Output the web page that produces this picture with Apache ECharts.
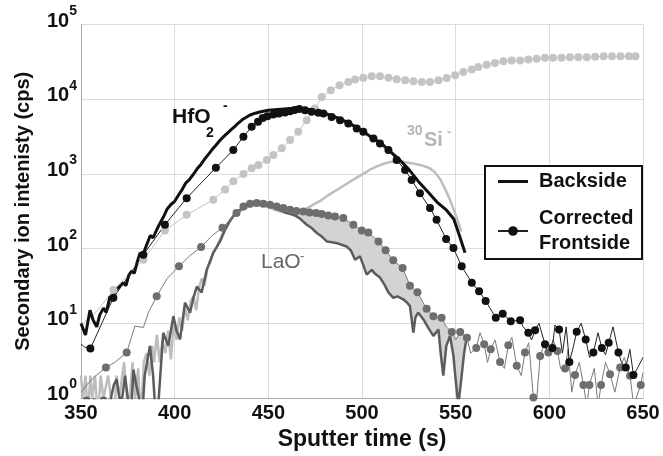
<!DOCTYPE html>
<html>
<head>
<meta charset="utf-8">
<script src="https://cdn.jsdelivr.net/npm/echarts@6/dist/echarts.min.js"></script>
<style>
  html, body { margin: 0; padding: 0; background: #fff; }
  #chart { width: 663px; height: 456px; }
</style>
</head>
<body>
<div id="chart"></div>
<script>
// values: [sputter time (s), intensity (cps)]
const hfo2Back = [[350,10],[352.4,7],[354.8,15],[356.5,11],[358.4,9],[360,13],[362,16],[363.5,14],[365.5,23],[367,20],[368.5,28],[370,30],[372.6,35],[374,32],[375.5,44],[377,50],[378.5,47],[380,66],[381.5,88],[383,82],[385,112],[387,150],[388.5,140],[390.4,179],[392,215],[394,265],[396,340],[398,390],[400,430],[402,520],[404,620],[406,760],[408,850],[410,990],[412,1170],[414,1340],[416,1580],[418,1830],[420,2120],[422,2420],[424,2780],[426,3130],[428,3480],[430,3880],[432,4300],[434,4800],[436,5300],[438,5700],[440,6100],[443,6500],[446,6800],[450,7100],[455,7300],[460,7450],[465,7550],[470,7400],[475,7000],[480,6500],[485,5900],[490,5200],[495,4500],[500,3800],[505,3100],[510,2600],[515,2000],[520,1550],[525,1150],[530,800],[535,580],[540,420],[545,330],[549,250],[552,150],[555,88]];

const hfo2FrontDots = [[355,4.6],[367.3,22],[383.3,83],[394.8,209],[406.4,474],[422,1213],[431.3,2090],[436.7,3140],[441.1,4270],[444.5,5000],[447,5600],[449.5,5930],[452.7,6250],[455.7,6440],[458.9,6640],[461.6,6900],[464,7200],[466.5,7400],[469.6,7100],[473.1,6800],[476.7,6600],[479.4,6440],[483.8,5800],[488.3,5250],[492.7,4740],[497.2,4070],[500.7,3670],[506.1,2990],[509.6,2560],[514.1,2090],[518.5,1537],[523,1130],[526.5,832],[530.9,553],[536.3,349],[539.8,244],[544.9,135],[548.8,102],[553.2,58],[558.6,35],[562.5,27],[566,20],[571.4,11.9],[575.1,13.5],[579.4,10.7],[584.4,11],[588.8,7.5],[592.4,8.1],[597.7,5.25],[601.6,4.7],[605.2,8.3],[610.7,3.05],[614.6,7.7],[619.4,6.1],[623.5,4.07],[628,4.7],[631.7,5.5],[636.9,4.07],[640.8,2.57],[644.9,2.03]];
const hfo2FrontNoise = [[350,5.3],[352,4.8],[586,9],[590.5,6],[594.5,10],[599.5,4],[603,9.5],[607,4],[609,9],[612.5,4.5],[617,10],[621.5,3.5],[626,7.5],[630,3.8],[634,9],[638.5,3],[643,4.5],[647,2.5],[650,3.5]];

const si30Back = [[350,2],[351,1],[352.5,2],[353.5,0.5],[355,2],[356,1],[357.5,2],[359,0.5],[360.5,2],[362,1],[363,1],[364.5,2],[366,1],[367.5,0.5],[369,2],[370.5,1],[372,2],[373,3],[374.5,1],[376,1],[377.5,3],[379,1],[380.5,2.5],[382,0.5],[383.5,3],[385,4],[386.5,2],[388,5],[389,3],[390.5,7],[392,3],[393.5,6],[395,4],[396.5,8],[398,3.3],[399.5,10],[401,6],[402.5,12],[404,8],[405.5,16],[407,11],[408.5,20],[410,23],[411.5,15],[413,30],[414.5,40],[416,32],[417.5,55],[419,65],[420.5,88],[422,100],[424,130],[426,170],[428,210],[430,250],[433,290],[436,330],[440,370],[445,390],[450,360],[455,320],[460,300],[465,310],[470,340],[475,400],[478,440],[482,520],[486,600],[490,690],[495,830],[500,980],[504,1130],[508,1260],[512,1380],[516,1460],[520,1470],[524,1420],[528,1370],[532,1300],[536,1200],[539,1050],[542,830],[545,580],[547,450],[549,330],[551,240],[553,170]];

const si30FrontDots = [[367.3,28],[383.3,71],[394.8,175],[406.4,284],[420.6,450],[426.9,620],[431.3,800],[436.7,1000],[441.1,1190],[444.7,1318],[449.2,1537],[452.7,1790],[457.2,2200],[461.6,2840],[466,3660],[470.5,5250],[474.9,7500],[478.5,10700],[483.3,13200],[488,15400],[492.7,17000],[496.3,18300],[500.7,19400],[505.2,20300],[509.6,20300],[514.1,19400],[518.5,18500],[523,17900],[527.4,17400],[531.9,17000],[536.3,17000],[540.8,17900],[545.2,19200],[549.7,20900],[554.1,23100],[558.6,24900],[562.1,27000],[566.6,29000],[571,30500],[575.5,32100],[579.9,33100],[584.4,33100],[588.8,34100],[593.2,34800],[597.7,35900],[602,36000],[606.5,36000],[611,36500],[615.5,36500],[620,36500],[624.5,37000],[629,37500],[633.5,37500],[638,37500],[642.5,37500],[646,37500]];
const si30FrontNoise = [[351,10],[358,14]];

const laoBack = [[350,0.5],[352,1],[354,1],[355.5,0.5],[357,1],[359,0.5],[361,1],[363,1],[364.5,0.5],[366,1],[367.5,1.5],[369,1.8],[370.5,1],[372,1],[373.5,2],[375,1],[376.5,0.5],[378,2.4],[379.5,1.5],[381,1],[382.5,0.5],[384,2],[386.8,5],[388.5,2],[390,0.5],[391.5,1],[393.9,7.5],[396.6,5],[399.3,12.5],[401,8],[402.9,6.1],[405.5,19],[408.2,13.9],[410,22],[411.8,31],[414.4,26],[417.1,52],[420.6,88],[424.2,125],[427,180],[429.5,235],[432,290],[434.9,331],[437.5,370],[440.2,398],[443,410],[445,395],[447.3,407],[450,380],[451.5,365],[453.6,349],[456,330],[459.8,299],[462,290],[465.2,270],[467.5,245],[470.5,209],[473,190],[475.9,162],[478.5,145],[481.2,125],[484,122],[487.4,117],[489.5,112],[491.8,107],[494,95],[496.3,71],[498.9,79],[500.5,62],[502.5,45],[505.2,52],[507,46],[509.6,41],[512,33],[514.1,26],[516.7,22],[519,23],[522,21],[524,19],[525.6,17],[527.4,7.5],[528.5,12],[530,13.9],[532.8,11.3],[535.4,8.7],[538.1,6.8],[540.8,8.3],[542,4],[543.4,2],[545,5],[547,6.8],[548.8,3.7],[549.7,2.1],[551.4,0.8],[553.2,2],[554.5,4],[556,6.8]];

const laoFrontDots = [[363.3,2.57],[374.4,4.07],[390.4,23],[402.3,58],[414.1,105],[425.5,190],[433,299],[436.7,367],[440.2,398],[443.8,407],[447.3,398],[450.9,386],[454.5,367],[458,349],[461.6,331],[465,320],[468.7,314],[472,305],[475.5,299],[478.5,290],[482,278],[485.6,270],[490,257],[495.4,209],[499.9,175],[503.4,165],[508.8,125],[512.6,95],[516.7,70],[521.7,55],[525.6,32],[529.6,26],[534.5,15.7],[538.1,12.5],[542.5,11.9],[547.9,7.65],[552.4,7.65],[556,6.4],[561,4.7],[565.2,5.25],[568.7,4.5],[573.7,3.05],[578.1,5.1],[582.6,2.7],[587,4.07],[591.5,1.02],[595.1,3.67],[599.5,4.07],[604.3,4.27],[608.4,2.49],[613.7,2.03],[618.2,1.5],[621.4,1.5],[627.6,1.5],[632.4,2.09],[637.8,2.57],[643.1,1.99],[648.8,1.5]];
const laoFrontNoise = [[350,1.2],[354,1.6],[358,2],[368,3],[378.8,9.2],[383.3,8.8],[386,14],[396,40],[408,80],[420,150],[545,9],[550,6],[558,4],[563,7.5],[567,3],[571,6],[576,2.5],[580,6.5],[585,2],[589,5.5],[593,0.8],[597,5],[602,6],[606,2.5],[610,4.5],[612,1.2],[616,3],[620,0.8],[624,2.5],[626,0.8],[630,3],[635,1.2],[640,3.5],[645,0.8],[650,2.2]];

const shadeFrom = 461;
const shadeTo = 556;

const FONT = '"Liberation Sans", Arial, sans-serif';

// legend sample for the plain line: a 3px bar in a 30x12 box (corner specks keep it from being rescaled)
const LINE_ICON = 'path://M0,0h0.01v0.01h-0.01z M0,4.5h30v3h-30z M29.99,11.99h0.01v0.01h-0.01z';

// dots keep the series symbol, in-between points are plain line vertices
function mergeLine(dots, noise) {
  const pts = dots.map((p) => ({ value: p }))
    .concat(noise.map((p) => ({ value: p, symbol: 'none' })));
  return pts.sort((a, b) => a.value[0] - b.value[0]);
}

const hfo2Front = mergeLine(hfo2FrontDots, hfo2FrontNoise);
const si30Front = mergeLine(si30FrontDots, si30FrontNoise);
const laoFront = mergeLine(laoFrontDots, laoFrontNoise);

const shadePts = laoBack.filter((p) => p[0] >= shadeFrom && p[0] <= shadeTo)
  .concat(laoFront.map((d) => d.value).filter((p) => p[0] >= shadeFrom && p[0] <= shadeTo).reverse());

function note(x, y, text, size, color, weight) {
  return {
    type: 'text', x: x, y: y, z: 100, silent: true,
    style: { text: text, fontSize: size, fontWeight: weight, fontFamily: FONT, fill: color, align: 'left', verticalAlign: 'middle' }
  };
}

const chart = echarts.init(document.getElementById('chart'), null, { renderer: 'canvas' });

const option = {
  animation: false,
  backgroundColor: '#fff',
  textStyle: { fontFamily: FONT },
  grid: { left: 81, right: 20, top: 24.5, bottom: 57 },
  legend: {
    data: [
      { name: 'Backside', icon: LINE_ICON },
      { name: 'Corrected\nFrontside' }
    ],
    orient: 'vertical',
    left: 485,
    top: 166,
    padding: [3, 5, 3, 12],
    itemGap: 12,
    itemWidth: 30,
    itemHeight: 12,
    backgroundColor: '#fff',
    borderColor: '#111',
    borderWidth: 2,
    borderRadius: 0,
    selectedMode: false,
    textStyle: { fontSize: 20, fontWeight: 'bold', color: '#111', lineHeight: 25, width: 98, padding: [0, 0, 0, 6], fontFamily: FONT }
  },
  xAxis: {
    type: 'value',
    min: 350,
    max: 650,
    interval: 50,
    name: 'Sputter time (s)',
    nameLocation: 'middle',
    nameGap: 19,
    nameTextStyle: { fontSize: 23, fontWeight: 'bold', color: '#111', fontFamily: FONT },
    axisLine: { show: true, lineStyle: { color: '#aaa', width: 1 } },
    axisTick: { show: false },
    splitLine: { show: true, lineStyle: { color: '#dcdcdc', width: 1 } },
    axisLabel: { margin: 5, fontSize: 20, fontWeight: 'bold', color: '#111', fontFamily: FONT }
  },
  yAxis: {
    type: 'log',
    logBase: 10,
    min: 1,
    max: 100000,
    name: 'Secondary ion intenisty (cps)',
    nameLocation: 'middle',
    nameGap: 48,
    nameTextStyle: { fontSize: 20, fontWeight: 'bold', color: '#111', fontFamily: FONT },
    axisLine: { show: true, lineStyle: { color: '#aaa', width: 1 } },
    axisTick: { show: false },
    splitLine: { show: true, lineStyle: { color: '#dcdcdc', width: 1 } },
    axisLabel: {
      margin: 4,
      padding: [0, 0, 7, 0],
      formatter: (v) => '{b|10}{s|' + Math.round(Math.log10(v)) + '}',
      rich: {
        b: { fontSize: 20, fontWeight: 'bold', color: '#111', lineHeight: 20, verticalAlign: 'bottom', fontFamily: FONT },
        s: { fontSize: 14, fontWeight: 'bold', color: '#111', lineHeight: 14, verticalAlign: 'bottom', padding: [0, 0, 13, 0], fontFamily: FONT }
      }
    }
  },
  graphic: [
    note(172, 117.5, 'HfO', 21, '#111', 'bold'),
    note(206, 133, '2', 14, '#111', 'bold'),
    note(223, 106, '-', 14, '#111', 'bold'),
    note(407, 131.5, '30', 14, '#b5b5b5', 'bold'),
    note(424, 140, 'Si', 20, '#b5b5b5', 'bold'),
    note(447, 132, '-', 13, '#b5b5b5', 'bold'),
    note(261, 262.5, 'LaO', 21, '#666', 'normal'),
    note(300, 256, '-', 13, '#666', 'normal')
  ],
  series: [
    {
      name: 'shade',
      type: 'custom',
      coordinateSystem: 'cartesian2d',
      data: [[shadeFrom, 100]],
      clip: true,
      silent: true,
      renderItem: (params, api) => ({
        type: 'polygon',
        shape: { points: shadePts.map((p) => api.coord(p)) },
        style: { fill: '#d3d3d3', stroke: null }
      })
    },
    {
      name: 'Si backside',
      type: 'line',
      data: si30Back,
      symbol: 'none',
      lineStyle: { color: '#bdbdbd', width: 2.5 },
      itemStyle: { color: '#bdbdbd' }
    },
    {
      name: 'Si frontside',
      type: 'line',
      data: si30Front,
      symbol: 'circle',
      symbolSize: 8,
      showAllSymbol: true,
      lineStyle: { color: '#c4c4c4', width: 1 },
      itemStyle: { color: '#c4c4c4' }
    },
    {
      name: 'LaO backside',
      type: 'line',
      data: laoBack,
      symbol: 'none',
      lineStyle: { color: '#5c5c5c', width: 2.5 },
      itemStyle: { color: '#5c5c5c' }
    },
    {
      name: 'LaO frontside',
      type: 'line',
      data: laoFront,
      symbol: 'circle',
      symbolSize: 8,
      showAllSymbol: true,
      lineStyle: { color: '#7a7a7a', width: 1 },
      itemStyle: { color: '#6e6e6e' }
    },
    {
      name: 'Backside',
      type: 'line',
      data: hfo2Back,
      symbol: 'none',
      lineStyle: { color: '#111', width: 3 },
      itemStyle: { color: '#111' }
    },
    {
      name: 'Corrected\nFrontside',
      type: 'line',
      data: hfo2Front,
      symbol: 'circle',
      symbolSize: 8,
      showAllSymbol: true,
      lineStyle: { color: '#222', width: 1 },
      itemStyle: { color: '#111' }
    }
  ]
};

chart.setOption(option);
window.addEventListener('resize', () => chart.resize());
</script>
</body>
</html>
